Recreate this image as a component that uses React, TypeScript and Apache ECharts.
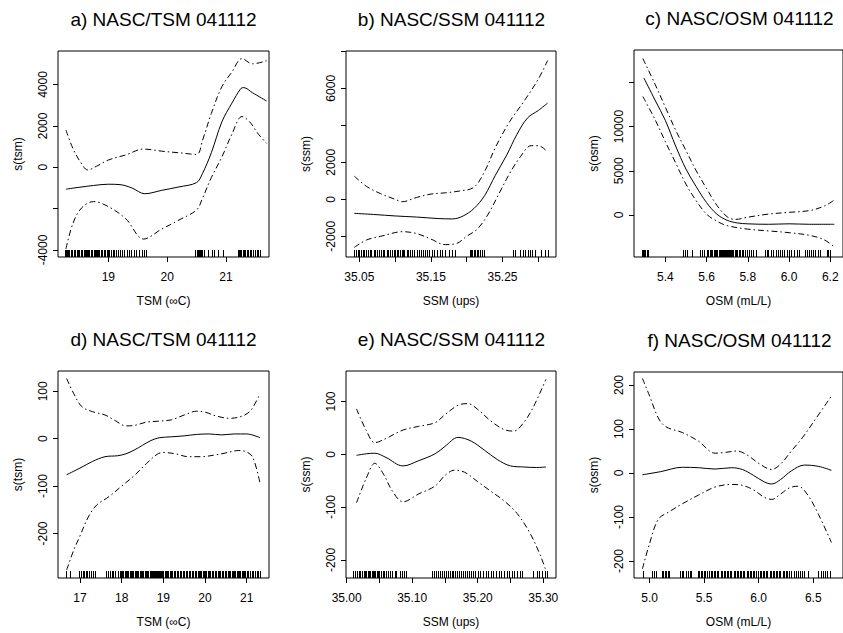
import React, { useEffect, useRef } from "react";
import * as echarts from "echarts";

const FONT = "'Liberation Sans', Arial, Helvetica, sans-serif";

// ---------- panel titles & axis names ----------
const titles = [
  "a) NASC/TSM 041112",
  "b) NASC/SSM 041112",
  "c) NASC/OSM 041112",
  "d) NASC/TSM 041112",
  "e) NASC/SSM 041112",
  "f) NASC/OSM 041112",
];
const xNames = ["TSM (\u221EC)", "SSM (ups)", "OSM (mL/L)", "TSM (\u221EC)", "SSM (ups)", "OSM (mL/L)"];
const yNames = ["s(tsm)", "s(ssm)", "s(osm)", "s(tsm)", "s(ssm)", "s(osm)"];

// ---------- tick values ----------
const aXTicks = [19, 20, 21];
const aYTicks = [-4000, -2000, 0, 2000, 4000];
const aYLabels = [-4000, 0, 2000, 4000];
const bXTicks = [35.05, 35.1, 35.15, 35.2, 35.25, 35.3];
const bXLabels = [35.05, 35.15, 35.25];
const bYTicks = [-2000, 0, 2000, 4000, 6000, 8000];
const bYLabels = [-2000, 0, 2000, 6000];
const cXTicks = [5.4, 5.6, 5.8, 6.0, 6.2];
const cYTicks = [0, 5000, 10000, 15000];
const cYLabels = [0, 5000, 10000];
const dXTicks = [17, 18, 19, 20, 21];
const dYTicks = [-200, -100, 0, 100];
const eXTicks = [35.0, 35.05, 35.1, 35.15, 35.2, 35.25, 35.3];
const eXLabels = [35.0, 35.1, 35.2, 35.3];
const eYTicks = [-200, -100, 0, 100];
const fXTicks = [5.0, 5.5, 6.0, 6.5];
const fYTicks = [-200, -100, 0, 100, 200];

// ---------- panel a: TSM ----------
const aFit = [
  [18.28, -1060], [18.5, -970], [18.75, -880], [19.0, -820], [19.2, -840], [19.4, -1000],
  [19.62, -1280], [19.9, -1120], [20.2, -950], [20.5, -740], [20.6, -300], [20.75, 700],
  [20.93, 2200], [21.1, 3100], [21.25, 3800], [21.3, 3850], [21.45, 3600], [21.69, 3200],
];
const aUpper = [
  [18.28, 1800], [18.4, 900], [18.55, 150], [18.65, -130], [18.8, 50], [19.0, 350], [19.3, 600],
  [19.6, 880], [19.9, 780], [20.2, 700], [20.5, 620], [20.6, 1300], [20.75, 2600], [20.93, 3900],
  [21.1, 4600], [21.27, 5250], [21.45, 5000], [21.69, 5150],
];
const aLower = [
  [18.28, -3950], [18.4, -2700], [18.55, -1950], [18.75, -1660], [19.0, -1900], [19.3, -2500],
  [19.6, -3470], [19.9, -3000], [20.2, -2550], [20.5, -2060], [20.6, -1500], [20.75, -500],
  [20.93, 500], [21.1, 1600], [21.27, 2450], [21.4, 2200], [21.55, 1600], [21.69, 1150],
];
const aRug = [
  18.27, 18.28, 18.3, 18.32, 18.34, 18.37, 18.39, 18.41, 18.43, 18.44, 18.46, 18.48, 18.5, 18.51,
  18.53, 18.54, 18.56, 18.58, 18.59, 18.61, 18.62, 18.64, 18.65, 18.67, 18.68, 18.7, 18.72, 18.73,
  18.75, 18.77, 18.79, 18.81, 18.83, 18.85, 18.88, 18.9, 18.92, 18.95, 18.97, 19.0, 19.02, 19.05,
  19.08, 19.1, 19.13, 19.16, 19.2, 19.23, 19.27, 19.31, 19.35, 19.38, 19.43, 19.47, 19.52, 19.57,
  19.6, 19.64, 20.47, 20.48, 20.5, 20.51, 20.52, 20.54, 20.55, 20.57, 20.59, 20.62, 20.7, 20.76,
  20.8, 20.86, 20.94, 21.2, 21.22, 21.24, 21.26, 21.28, 21.3, 21.31, 21.33, 21.35, 21.37, 21.4,
  21.43, 21.46, 21.49, 21.52, 21.55, 21.57,
];

// ---------- panel b: SSM ----------
const bFit = [
  [35.043, -760], [35.07, -820], [35.1, -900], [35.13, -960], [35.16, -1040], [35.18, -1060],
  [35.195, -900], [35.21, -500], [35.225, 200], [35.24, 1300], [35.256, 2400], [35.27, 3500],
  [35.285, 4400], [35.3, 4800], [35.313, 5200],
];
const bUpper = [
  [35.043, 1250], [35.06, 700], [35.08, 300], [35.1, 0], [35.11, -130], [35.13, 100],
  [35.15, 280], [35.17, 350], [35.19, 450], [35.21, 650], [35.225, 1500], [35.24, 2800],
  [35.26, 4200], [35.28, 5300], [35.3, 6500], [35.313, 7500],
];
const bLower = [
  [35.043, -2600], [35.06, -2200], [35.08, -2000], [35.1, -1800], [35.11, -1750], [35.13, -1850],
  [35.15, -2150], [35.17, -2450], [35.185, -2400], [35.2, -2000], [35.215, -1600], [35.23, -800],
  [35.245, 300], [35.26, 1400], [35.275, 2300], [35.29, 2900], [35.3, 2900], [35.313, 2550],
];
const bRug = [
  35.043, 35.045, 35.048, 35.05, 35.052, 35.055, 35.057, 35.06, 35.062, 35.065, 35.067, 35.07,
  35.072, 35.075, 35.078, 35.08, 35.083, 35.085, 35.088, 35.09, 35.093, 35.095, 35.098, 35.1,
  35.102, 35.104, 35.107, 35.109, 35.111, 35.113, 35.116, 35.118, 35.121, 35.124, 35.127, 35.13,
  35.133, 35.136, 35.139, 35.142, 35.145, 35.148, 35.151, 35.155, 35.158, 35.162, 35.166, 35.17,
  35.175, 35.18, 35.184, 35.204, 35.206, 35.208, 35.21, 35.212, 35.214, 35.216, 35.218, 35.221,
  35.224, 35.264, 35.267, 35.274, 35.279, 35.282, 35.285, 35.288, 35.291, 35.295, 35.304,
  35.309, 35.313,
];

// ---------- panel c: OSM ----------
const cFit = [
  [5.296, 15500], [5.35, 13000], [5.4, 10700], [5.45, 7800], [5.5, 5200], [5.55, 3200],
  [5.6, 1400], [5.65, 100], [5.7, -600], [5.75, -900], [5.8, -1000], [5.9, -1050], [6.0, -1000],
  [6.1, -1050], [6.22, -1050],
];
const cUpper = [
  [5.291, 17700], [5.35, 14800], [5.4, 12200], [5.45, 9600], [5.5, 7300], [5.55, 5000],
  [5.6, 3000], [5.65, 1100], [5.7, -200], [5.74, -500], [5.8, -250], [5.9, 100], [6.0, 300],
  [6.1, 500], [6.17, 1000], [6.22, 1700],
];
const cLower = [
  [5.291, 13400], [5.35, 10800], [5.4, 8300], [5.45, 5900], [5.5, 3500], [5.55, 1600],
  [5.6, 100], [5.65, -700], [5.7, -1200], [5.8, -1600], [5.9, -1800], [6.0, -2000],
  [6.1, -2300], [6.17, -2800], [6.22, -3600],
];
const cRug = [
  5.285, 5.29, 5.295, 5.3, 5.31, 5.318, 5.488, 5.494, 5.503, 5.53, 5.568, 5.58, 5.59, 5.6, 5.607,
  5.615, 5.62, 5.628, 5.635, 5.64, 5.647, 5.653, 5.66, 5.665, 5.67, 5.675, 5.68, 5.685, 5.69,
  5.695, 5.7, 5.705, 5.71, 5.715, 5.72, 5.725, 5.73, 5.736, 5.742, 5.748, 5.755, 5.762, 5.77,
  5.778, 5.786, 5.795, 5.805, 5.815, 5.826, 5.84, 5.885, 5.893, 5.9, 5.912, 5.922, 5.935, 5.945,
  5.955, 5.965, 5.975, 5.99, 6.0, 6.012, 6.025, 6.04, 6.05, 6.078, 6.086, 6.095, 6.105, 6.115,
  6.128, 6.14, 6.148, 6.182, 6.188, 6.2,
];

// ---------- panel d: TSM ----------
const dFit = [
  [16.68, -76], [17.0, -62], [17.3, -48], [17.6, -38], [17.9, -36], [18.1, -32], [18.3, -24],
  [18.5, -14], [18.7, -4], [18.9, 2], [19.2, 4], [19.5, 6], [19.8, 9], [20.1, 10], [20.4, 8],
  [20.7, 10], [21.0, 10], [21.32, 2],
];
const dUpper = [
  [16.68, 127], [16.85, 95], [17.04, 68], [17.3, 57], [17.6, 50], [17.85, 38], [18.1, 27],
  [18.3, 28], [18.6, 35], [18.9, 37], [19.2, 40], [19.5, 50], [19.8, 58], [20.0, 56],
  [20.3, 47], [20.6, 43], [20.9, 48], [21.1, 60], [21.32, 95],
];
const dLower = [
  [16.68, -277], [16.85, -235], [17.0, -205], [17.2, -165], [17.4, -140], [17.7, -122],
  [18.0, -100], [18.3, -78], [18.6, -52], [18.85, -33], [19.0, -29], [19.3, -32], [19.6, -38],
  [19.9, -38], [20.2, -35], [20.5, -30], [20.8, -25], [21.0, -28], [21.15, -40], [21.32, -94],
];
const dRug = [
  16.67, 16.76, 16.97, 17.02, 17.06, 17.1, 17.14, 17.17, 17.21, 17.26, 17.3, 17.35, 17.62, 17.67,
  17.72, 17.76, 17.8, 17.85, 17.92, 17.95, 17.98, 18.01, 18.04, 18.07, 18.1, 18.13, 18.16, 18.19,
  18.22, 18.25, 18.28, 18.31, 18.34, 18.37, 18.4, 18.43, 18.46, 18.49, 18.52, 18.55, 18.58,
  18.61, 18.64, 18.67, 18.7, 18.72, 18.75, 18.77, 18.8, 18.82, 18.85, 18.87, 18.9, 18.92, 18.95,
  18.97, 19.0, 19.03, 19.06, 19.09, 19.12, 19.15, 19.18, 19.21, 19.25, 19.29, 19.33, 19.36,
  19.4, 19.43, 19.47, 19.5, 19.54, 19.57, 19.61, 19.64, 19.68, 19.71, 19.75, 19.78, 19.82,
  19.85, 19.88, 19.91, 19.94, 19.97, 20.0, 20.03, 20.06, 20.09, 20.12, 20.16, 20.19, 20.23,
  20.26, 20.3, 20.33, 20.37, 20.4, 20.44, 20.47, 20.5, 20.54, 20.57, 20.61, 20.64, 20.67, 20.7,
  20.73, 20.76, 20.79, 20.82, 20.85, 20.88, 20.91, 20.94, 20.97, 21.0, 21.04, 21.08, 21.12,
  21.16, 21.2, 21.24, 21.28, 21.32,
];

// ---------- panel e: SSM ----------
const eFit = [
  [35.015, -2], [35.03, 1], [35.043, 2], [35.06, -6], [35.086, -22], [35.11, -12], [35.135, 1],
  [35.15, 15], [35.17, 32], [35.19, 25], [35.21, 8], [35.23, -10], [35.25, -22], [35.27, -24],
  [35.29, -25], [35.304, -24],
];
const eUpper = [
  [35.015, 86], [35.03, 45], [35.043, 22], [35.06, 30], [35.086, 46], [35.11, 53], [35.135, 60],
  [35.15, 75], [35.17, 93], [35.185, 96], [35.2, 85], [35.22, 63], [35.24, 47], [35.255, 44],
  [35.27, 60], [35.285, 90], [35.304, 142],
];
const eLower = [
  [35.015, -92], [35.03, -45], [35.043, -17], [35.055, -35], [35.07, -70], [35.086, -90],
  [35.11, -75], [35.135, -60], [35.15, -40], [35.165, -30], [35.18, -34], [35.2, -52],
  [35.22, -70], [35.24, -88], [35.26, -112], [35.28, -150], [35.295, -190], [35.304, -220],
];
const eRug = [
  35.01, 35.013, 35.016, 35.019, 35.021, 35.024, 35.026, 35.028, 35.03, 35.032, 35.034, 35.036,
  35.038, 35.04, 35.042, 35.044, 35.046, 35.048, 35.05, 35.052, 35.055, 35.057, 35.06, 35.063,
  35.066, 35.069, 35.073, 35.076, 35.082, 35.085, 35.088, 35.091, 35.13, 35.133, 35.136, 35.139,
  35.142, 35.145, 35.148, 35.151, 35.154, 35.157, 35.16, 35.163, 35.166, 35.169, 35.172, 35.175,
  35.178, 35.181, 35.184, 35.187, 35.19, 35.193, 35.196, 35.2, 35.204, 35.208, 35.212, 35.216,
  35.22, 35.224, 35.228, 35.232, 35.236, 35.24, 35.244, 35.248, 35.252, 35.256, 35.26, 35.264,
  35.267, 35.285, 35.29, 35.294, 35.298, 35.302, 35.305,
];

// ---------- panel f: OSM ----------
const fFit = [
  [4.934, -4], [5.1, 3], [5.3, 13], [5.45, 12], [5.6, 9], [5.75, 12], [5.85, 8], [5.95, -5],
  [6.05, -20], [6.12, -25], [6.2, -15], [6.3, 5], [6.42, 18], [6.55, 15], [6.667, 6],
];
const fUpper = [
  [4.934, 215], [5.0, 175], [5.08, 125], [5.15, 105], [5.3, 92], [5.45, 72], [5.6, 45],
  [5.7, 47], [5.8, 50], [5.9, 40], [6.0, 22], [6.12, 8], [6.2, 20], [6.3, 50], [6.4, 80],
  [6.5, 115], [6.667, 175],
];
const fLower = [
  [4.934, -218], [5.0, -160], [5.08, -105], [5.18, -88], [5.3, -70], [5.45, -50], [5.6, -32],
  [5.75, -26], [5.85, -28], [5.95, -38], [6.05, -55], [6.12, -60], [6.2, -48], [6.28, -34],
  [6.36, -30], [6.45, -50], [6.55, -95], [6.667, -158],
];
const fRug = [
  4.935, 5.02, 5.04, 5.06, 5.11, 5.12, 5.14, 5.15, 5.17, 5.18, 5.28, 5.3, 5.31, 5.33, 5.35, 5.37,
  5.38, 5.44, 5.45, 5.47, 5.48, 5.5, 5.51, 5.53, 5.54, 5.56, 5.57, 5.59, 5.6, 5.62, 5.63, 5.65,
  5.66, 5.68, 5.69, 5.71, 5.72, 5.74, 5.75, 5.77, 5.78, 5.8, 5.81, 5.83, 5.84, 5.86, 5.87, 5.89,
  5.9, 5.92, 5.93, 5.95, 5.96, 5.98, 5.99, 6.01, 6.02, 6.04, 6.05, 6.07, 6.08, 6.1, 6.11, 6.13,
  6.14, 6.16, 6.17, 6.19, 6.2, 6.22, 6.23, 6.25, 6.26, 6.28, 6.3, 6.32, 6.34, 6.36, 6.38, 6.4,
  6.42, 6.45, 6.54, 6.57, 6.59, 6.61, 6.63, 6.65,
];

// ---------- layout ----------
const panels = [
  { grid: { left: 58, top: 51, width: 211, height: 206 }, x: [18.145, 21.73], y: [-4337, 5619],
    xT: aXTicks, xL: aXTicks, xd: 0, yT: aYTicks, yL: aYLabels, fit: aFit, up: aUpper, lo: aLower, rug: aRug },
  { grid: { left: 346, top: 51, width: 210, height: 206 }, x: [35.0314, 35.3247], y: [-3119, 8016],
    xT: bXTicks, xL: bXLabels, xd: 2, yT: bYTicks, yL: bYLabels, fit: bFit, up: bUpper, lo: bLower, rug: bRug },
  { grid: { left: 634, top: 50, width: 211, height: 207 }, x: [5.248, 6.262], y: [-4751, 18665],
    xT: cXTicks, xL: cXTicks, xd: 1, yT: cYTicks, yL: cYLabels, fit: cFit, up: cUpper, lo: cLower, rug: cRug },
  { grid: { left: 58, top: 371, width: 211, height: 207 }, x: [16.472, 21.535], y: [-293.9, 142.8],
    xT: dXTicks, xL: dXTicks, xd: 0, yT: dYTicks, yL: dYTicks, fit: dFit, up: dUpper, lo: dLower, rug: dRug },
  { grid: { left: 346, top: 371, width: 210, height: 207 }, x: [34.999, 35.3194], y: [-234.3, 157.8],
    xT: eXTicks, xL: eXLabels, xd: 2, yT: eYTicks, yL: eYTicks, fit: eFit, up: eUpper, lo: eLower, rug: eRug },
  { grid: { left: 634, top: 372, width: 211, height: 206 }, x: [4.857, 6.773], y: [-238.6, 229.5],
    xT: fXTicks, xL: fXTicks, xd: 1, yT: fYTicks, yL: fYTicks, fit: fFit, up: fUpper, lo: fLower, rug: fRug },
];

const DASHDOT = [6, 3, 1.5, 3];

function buildOption() {
  const grid: any[] = [];
  const xAxis: any[] = [];
  const yAxis: any[] = [];
  const series: any[] = [];
  const graphic: any[] = [];
  panels.forEach((p, i) => {
    grid.push({ ...p.grid, show: true, borderColor: "#000", borderWidth: 1, backgroundColor: "transparent" });
    xAxis.push({
      type: "value", gridIndex: i, min: p.x[0], max: p.x[1], position: "bottom",
      axisLine: { show: false, onZero: false }, splitLine: { show: false },
      axisTick: { show: true, inside: false, length: 5, customValues: p.xT, lineStyle: { color: "#000", width: 1 } },
      axisLabel: {
        show: true, customValues: p.xL, margin: 14, color: "#000", fontSize: 12, fontFamily: FONT,
        formatter: (v: number) => v.toFixed(p.xd),
      },
      name: xNames[i], nameLocation: "middle", nameGap: 38,
      nameTextStyle: { color: "#000", fontSize: 12, fontFamily: FONT },
    });
    yAxis.push({
      type: "value", gridIndex: i, min: p.y[0], max: p.y[1], position: "left",
      axisLine: { show: false, onZero: false }, splitLine: { show: false },
      axisTick: { show: true, inside: false, length: 5, customValues: p.yT, lineStyle: { color: "#000", width: 1 } },
      axisLabel: {
        show: true, customValues: p.yL, rotate: 90, margin: 9, color: "#000", fontSize: 12, fontFamily: FONT,
        formatter: (v: number) => String(Math.round(v)),
      },
      name: yNames[i], nameLocation: "middle", nameGap: 34, nameRotate: 90,
      nameTextStyle: { color: "#000", fontSize: 12, fontFamily: FONT },
    });
    const lineBase = {
      type: "line", xAxisIndex: i, yAxisIndex: i, showSymbol: false, symbol: "none",
      smooth: 0.35, clip: true, silent: true,
    };
    series.push({ ...lineBase, name: `fit${i}`, data: p.fit, lineStyle: { color: "#000", width: 1, type: "solid" } });
    series.push({ ...lineBase, name: `up${i}`, data: p.up, lineStyle: { color: "#000", width: 1, type: DASHDOT } });
    series.push({ ...lineBase, name: `lo${i}`, data: p.lo, lineStyle: { color: "#000", width: 1, type: DASHDOT } });
    series.push({
      type: "custom", xAxisIndex: i, yAxisIndex: i, silent: true, clip: true,
      data: p.rug.map((v) => [v, 0]),
      encode: { x: 0, y: 1 },
      renderItem: (params: any, api: any) => {
        const cs = params.coordSys;
        const pt = api.coord([api.value(0), 0]);
        const px = Math.round(pt[0]) + 0.5;
        const bottom = Math.round(cs.y + cs.height);
        return {
          type: "line",
          shape: { x1: px, y1: bottom, x2: px, y2: bottom - 7 },
          style: { stroke: "#000", lineWidth: 1 },
        };
      },
    });
    graphic.push({
      type: "text",
      x: p.grid.left + 105.5,
      y: p.grid.top - 32,
      style: {
        text: titles[i], fontSize: 19, fontFamily: FONT, fill: "#000",
        align: "center", verticalAlign: "middle",
      },
    });
  });
  return {
    animation: false,
    backgroundColor: "#fff",
    textStyle: { fontFamily: FONT },
    grid, xAxis, yAxis, series, graphic,
  };
}

export default function App() {
  const ref = useRef<HTMLDivElement>(null);
  useEffect(() => {
    if (!ref.current) return;
    const chart = echarts.init(ref.current, undefined, { renderer: "svg" });
    chart.setOption(buildOption() as any);
    return () => chart.dispose();
  }, []);
  return (
    <div
      ref={ref}
      style={{ position: "absolute", left: 0, top: 0, width: 843, height: 633, background: "#fff" }}
    />
  );
}
